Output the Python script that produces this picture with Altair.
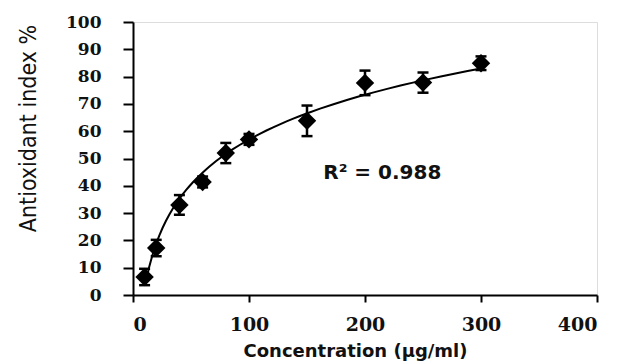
import altair as alt
import pandas as pd

conc = [10, 20, 40, 60, 80, 100, 150, 200, 250, 300]
index = [6.6, 17.2, 33.0, 41.4, 52.0, 57.0, 63.8, 77.7, 77.8, 84.9]
err = [3.0, 3.0, 3.6, 2.0, 3.7, 2.0, 5.6, 4.5, 3.7, 2.5]

r2_text = ["R\u00b2 = 0.988"]
r2_x = [164]
r2_y = [44.7]

x_ticks = [0, 100, 200, 300, 400]
y_ticks = [0, 10, 20, 30, 40, 50, 60, 70, 80, 90, 100]

df = pd.DataFrame({"x": conc, "y": index, "e": err})
df["lo"] = df["y"] - df["e"]
df["hi"] = df["y"] + df["e"]

xs = alt.Scale(domain=[0, 400], nice=False)
ys = alt.Scale(domain=[0, 100], nice=False)

xaxis = alt.Axis(
    title="Concentration (\u00b5g/ml)", values=x_ticks,
    grid=False, domainColor="black", domainWidth=2, tickColor="black", tickWidth=2,
    tickSize=7, labelPadding=13, labelFont="DejaVu Serif", labelFontWeight="bold",
    labelFontSize=19, labelColor="#111", labelOverlap=False,
    titleFont="DejaVu Sans", titleFontWeight="bold",
    titleFontSize=18, titleColor="#111", titleX=222, titleY=56,
    titleAlign="center", titleBaseline="middle")
yaxis = alt.Axis(
    title="Antioxidant index %", values=y_ticks, tickCount=11,
    grid=False, domainColor="black", domainWidth=2, tickColor="black", tickWidth=2,
    tickSize=10, labelPadding=22, labelFont="DejaVu Serif", labelFontWeight="bold",
    labelFontSize=17, labelColor="#111", labelOverlap=False,
    titleFont="DejaVu Sans Condensed",
    titleFontWeight="normal", titleFontSize=23, titleColor="#111",
    titleX=-105, titleY=106, titleAlign="center", titleBaseline="middle", titleAngle=270)

base = alt.Chart(df)

def X(f):
    return alt.X(f, scale=xs, axis=xaxis)

def Y(f):
    return alt.Y(f, scale=ys, axis=yaxis)

curve = base.transform_regression("x", "y", method="log", extent=[11, 300]).mark_line(
    color="black", strokeWidth=2).encode(x=X("x:Q"), y=Y("y:Q"))

bars = base.mark_rule(color="black", strokeWidth=2.5).encode(
    x=X("x:Q"), y=Y("lo:Q"), y2="hi:Q")
cap_hi = base.mark_tick(color="black", thickness=2.5, size=11, orient="horizontal", opacity=1).encode(
    x=X("x:Q"), y=Y("hi:Q"))
cap_lo = base.mark_tick(color="black", thickness=2.5, size=11, orient="horizontal", opacity=1).encode(
    x=X("x:Q"), y=Y("lo:Q"))
pts = base.mark_point(shape="diamond", filled=True, color="black", size=340, opacity=1).encode(
    x=X("x:Q"), y=Y("y:Q"))

txt = alt.Chart(pd.DataFrame({"x": r2_x, "y": r2_y, "t": r2_text})).mark_text(
    align="left", baseline="middle", font="DejaVu Sans", fontWeight="bold",
    fontSize=20, color="#111").encode(x=X("x:Q"), y=Y("y:Q"), text="t:N")

chart = alt.layer(curve, bars, cap_hi, cap_lo, pts, txt).properties(
    width=464, height=273,
    autosize=alt.AutoSizeParams(type="none"),
    padding={"left": 133, "top": 22, "right": 45, "bottom": 69},
).configure_view(stroke=None).configure(background="white")

chart.save("out.html", embed_options={"renderer": "svg", "actions": False})
